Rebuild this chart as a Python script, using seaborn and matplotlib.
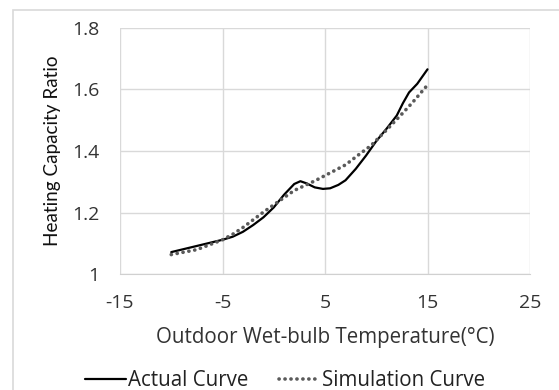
import matplotlib
matplotlib.use("Agg")
import matplotlib.pyplot as plt
import seaborn as sns
import pandas as pd
from matplotlib.patches import Rectangle

# Data
actual_x = [-10, -7.5, -5, -4, -3, -2, -1, 0, 1, 2, 2.6, 3.2, 4, 4.8, 5.5, 6.3, 7, 8, 9, 10, 11, 12, 12.6,
            13.2, 14, 15]
actual_y = [1.072, 1.092, 1.112, 1.122, 1.138, 1.16, 1.185, 1.217, 1.258, 1.293, 1.302, 1.295, 1.282, 1.277,
            1.279, 1.29, 1.305, 1.342, 1.385, 1.432, 1.472, 1.515, 1.555, 1.59, 1.618, 1.665]
sim_x = [-10, -7.5, -5, -4, -3, -1, 0.5, 2, 4, 5.5, 7, 8.25, 9.5, 11, 12.5, 13.5, 15]
sim_y = [1.064, 1.08, 1.112, 1.13, 1.152, 1.202, 1.237, 1.272, 1.303, 1.329, 1.355, 1.387, 1.418, 1.468,
         1.52, 1.556, 1.614]
x_ticks = [-15, -5, 5, 15, 25]
y_ticks = [1.0, 1.2, 1.4, 1.6, 1.8]
y_tick_labels = ["1", "1.2", "1.4", "1.6", "1.8"]

sns.set_style("white")
plt.rcParams["font.family"] = ["Open Sans", "DejaVu Sans"]

fig = plt.figure(figsize=(5.59, 3.9), dpi=100)
ax = fig.add_axes([120 / 559, 1 - 274.3 / 390, 410 / 559, (274.3 - 27.7) / 390])

# outer chart frame
fig.patches.append(Rectangle((13 / 559, -0.05), 1.1, 1 - 10 / 390 + 0.05, transform=fig.transFigure,
                             fill=False, edgecolor="#d9d9d9", linewidth=1.2, zorder=0))

df_a = pd.DataFrame({"x": actual_x, "y": actual_y})
df_s = pd.DataFrame({"x": sim_x, "y": sim_y})
sns.lineplot(data=df_a, x="x", y="y", ax=ax, color="black", linewidth=1.6, label="Actual Curve",
             sort=False, estimator=None)
sns.lineplot(data=df_s, x="x", y="y", ax=ax, color="#5a5a5a", linewidth=2.6, label="Simulation Curve",
             sort=False, estimator=None, linestyle=(0, (0.05, 1.6)), dash_capstyle="round")

ax.set_xlim(-15, 25)
ax.set_ylim(1.0, 1.8)
ax.set_xticks(x_ticks)
ax.set_xticklabels([str(t) for t in x_ticks])
ax.set_yticks(y_ticks)
ax.set_yticklabels(y_tick_labels)
ax.grid(True, color="#d9d9d9", linewidth=1)
for s in ["top", "right", "left"]:
    ax.spines[s].set_visible(False)
ax.spines["bottom"].set_color("#d0d0d0")
ax.tick_params(axis="both", length=0, labelsize=14, colors="#333333")
ax.tick_params(axis="x", pad=14)
ax.tick_params(axis="y", pad=15)
ax.set_xlabel("Outdoor Wet-bulb Temperature(°C)", fontsize=14.8, color="#333333", labelpad=11)
ax.set_ylabel("Heating Capacity Ratio", fontsize=13.6, color="#111111", labelpad=8,
              family=["Lato", "DejaVu Sans"])

ax.legend_.remove()
h, l = ax.get_legend_handles_labels()
fig.legend(h, l, loc="center", bbox_to_anchor=(285 / 559, 1 - 381 / 390), ncol=2, frameon=False,
           fontsize=14.8, handlelength=2.0, handletextpad=0.1, columnspacing=1.5,
           labelcolor="#222222")

fig.savefig("out.png", dpi=100, facecolor="white")
